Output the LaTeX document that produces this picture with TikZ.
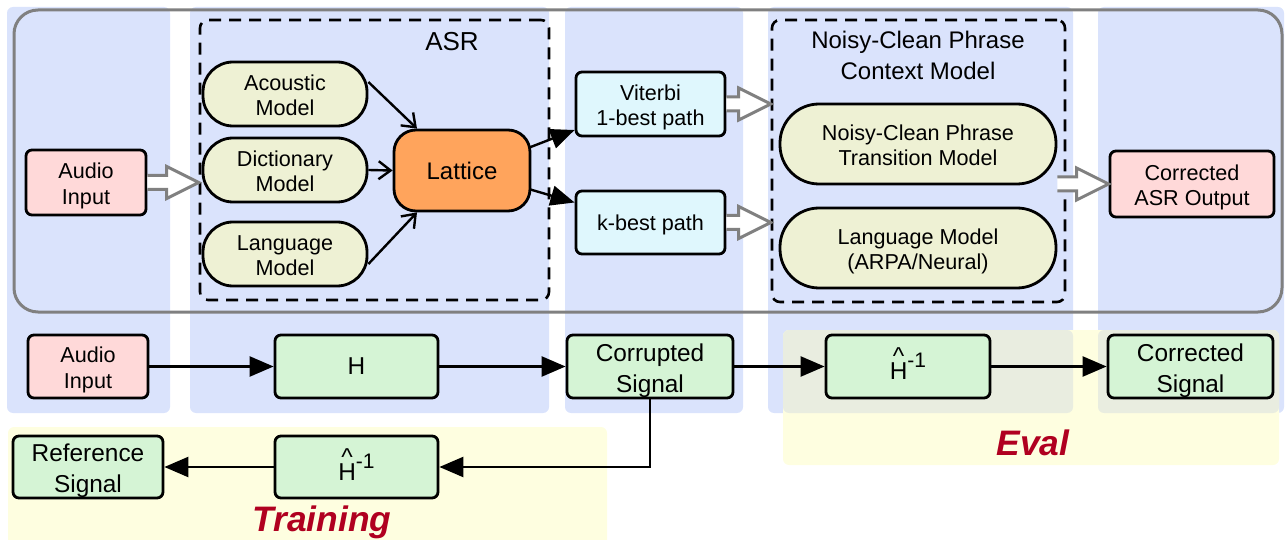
\documentclass[tikz,border=0pt]{standalone}
\usepackage{fontspec}
\setmainfont{Liberation Sans}
\usetikzlibrary{arrows.meta,calc}
\definecolor{colblue}{HTML}{DAE3FC}
\definecolor{pinkc}{HTML}{FFD9D9}
\definecolor{modelc}{HTML}{EEF1D4}
\definecolor{orangec}{HTML}{FFA45C}
\definecolor{cyanc}{HTML}{DFF7FD}
\definecolor{greenc}{HTML}{D5F4D5}
\definecolor{yellowc}{HTML}{FEFEE0}
\definecolor{overlapc}{HTML}{E9EDE0}
\definecolor{redc}{HTML}{B00020}
\definecolor{grayc}{HTML}{808080}
\newcommand\hinv{\ooalign{H\cr\hidewidth\raisebox{0.62em}{\textasciicircum}\hidewidth\cr}\raisebox{0.5em}{\fontsize{10.5}{12}\selectfont -1}}
\newcommand\ml[1]{\raisebox{-2pt}[\height][\depth]{\begin{tabular}{@{}c@{}}#1\end{tabular}}}
\newcommand\hollowarrow[2]{\draw[hollow] let \p1=(#1), \p2=(#2) in
  (\x1,\y1+3.5pt) -- (\x2-16pt,\y1+3.5pt) -- (\x2-16pt,\y1+8pt) -- (\x2,\y1)
  -- (\x2-16pt,\y1-8pt) -- (\x2-16pt,\y1-3.5pt) -- (\x1,\y1-3.5pt);}
\begin{document}
\begin{tikzpicture}[x=0.5pt,y=-0.5pt,
  box/.style={draw=black, line width=1.4pt, rounded corners=3pt, inner sep=0pt, align=center, font={\fontsize{10.8}{12.5}\selectfont}},
  pinkbox/.style={box, fill=pinkc},
  modelbox/.style={box, fill=modelc, rounded corners=15pt},
  latbox/.style={box, fill=orangec, rounded corners=11pt, font={\fontsize{12}{14}\selectfont}},
  cyanbox/.style={box, fill=cyanc},
  greenbox/.style={box, fill=greenc, font={\fontsize{12.2}{15.5}\selectfont}},
  dashbox/.style={draw=black, dashed, dash pattern=on 6pt off 4pt, line width=1.3pt, rounded corners=4pt, inner sep=0pt},
  hollow/.style={draw=grayc, line width=1.5pt, fill=white, line join=miter},
  filarr/.style={line width=1.2pt, -{Triangle[length=12pt,width=10pt]}},
  openarr/.style={line width=1.2pt, -{Straight Barb[length=6pt,width=9pt,line width=1.2pt]}},
  phase/.style={text=redc, font={\fontsize{17.7}{20}\selectfont\bfseries\itshape}}
]
\useasboundingbox (0,0) rectangle (1287,540);
% background columns
\fill[colblue, rounded corners=3pt] (7,7) rectangle (170,413);
\fill[colblue, rounded corners=3pt] (190,7) rectangle (549,413);
\fill[colblue, rounded corners=3pt] (565,7) rectangle (743,413);
\fill[colblue, rounded corners=3pt] (768,7) rectangle (1073,413);
\fill[colblue, rounded corners=3pt] (1098,7) rectangle (1284,413);
% yellow regions
\fill[yellowc, rounded corners=3pt] (8,427) rectangle (607,548);
\fill[yellowc, rounded corners=3pt] (783,330) rectangle (1279,465);
\fill[overlapc, rounded corners=3pt] (783,330) rectangle (1073,413);
\fill[overlapc, rounded corners=3pt] (1098,330) rectangle (1279,413);
% outer frame
\draw[grayc, line width=1.5pt, rounded corners=12pt] (14,10) rectangle (1282,312);
% dashed groups
\node[dashbox, minimum width=174.5pt, minimum height=140pt] (asr) at (374.5,160) {};
\node[font={\fontsize{13}{15}\selectfont}] (asrlbl) at (452,42) {ASR};
\node[dashbox, minimum width=146.5pt, minimum height=141pt] (nc) at (918.5,161) {};
\node[align=center, font={\fontsize{12}{15.5}\selectfont}] (nclbl) at (918,55.5) {Noisy-Clean Phrase\\Context Model};
% top nodes
\node[pinkbox, minimum width=60pt, minimum height=32.5pt] (audio1) at (86,182.5) {\ml{Audio\\Input}};
\node[modelbox, minimum width=82pt, minimum height=32pt] (ac) at (285,94) {\ml{Acoustic\\Model}};
\node[modelbox, minimum width=82pt, minimum height=32pt] (dic) at (285,170) {\ml{Dictionary\\Model}};
\node[modelbox, minimum width=82pt, minimum height=32pt] (lm) at (285,254) {\ml{Language\\Model}};
\node[latbox, minimum width=68pt, minimum height=40.5pt] (lat) at (462,170.5) {Lattice};
\node[cyanbox, minimum width=74.5pt, minimum height=32pt] (vit) at (650.5,104) {\ml{Viterbi\\1-best path}};
\node[cyanbox, minimum width=74.5pt, minimum height=31.5pt, text depth=0pt] (kb) at (650.5,222.5) {k-best path};
\node[modelbox, rounded corners=19.5pt, minimum width=138pt, minimum height=40pt] (nct) at (918,144) {\ml{Noisy-Clean Phrase\\Transition Model}};
\node[modelbox, rounded corners=19.5pt, minimum width=138pt, minimum height=40pt] (nlm) at (918,248) {\ml{Language Model\\(ARPA/Neural)}};
\node[pinkbox, minimum width=82pt, minimum height=33pt] (cor) at (1192,184) {\ml{Corrected\\ASR Output}};
% bottom nodes
\node[pinkbox, minimum width=60pt, minimum height=31.5pt] (audio2) at (88,366.5) {\ml{Audio\\Input}};
\node[greenbox, minimum width=81.5pt, minimum height=31.5pt] (H) at (356.5,366.5) {H};
\node[greenbox, minimum width=83pt, minimum height=31.5pt] (corr) at (650,366.5) {\ml{Corrupted\\Signal}};
\node[greenbox, minimum width=82pt, minimum height=31.5pt] (hinv1) at (908,366.5) {\hinv};
\node[greenbox, minimum width=82.5pt, minimum height=31.5pt] (corsig) at (1190.5,366.5) {\ml{Corrected\\Signal}};
\node[greenbox, minimum width=75pt, minimum height=31pt] (ref) at (88,467) {\ml{Reference\\Signal}};
\node[greenbox, minimum width=81.5pt, minimum height=31pt] (hinv2) at (356.5,467) {\hinv};
% labels
\node[phase] (train) at (322,522) {Training};
\node[phase] (eval) at (1033,443) {Eval};
% hollow arrows
\hollowarrow{audio1.east}{audio1.east -| asr.west}
\hollowarrow{vit.east}{vit.east -| nc.west}
\hollowarrow{kb.east}{kb.east -| nc.west}
\hollowarrow{$(cor.west -| nc.east)+(-9,0)$}{cor.west}
% ASR internal arrows
\draw[openarr] ($(ac.east)+(0,-12)$) -- ($(lat.north)+(-45,0)$);
\draw[openarr] (dic.east) -- (lat.west);
\draw[openarr] ($(lm.east)+(0,10)$) -- ($(lat.south)+(-45,0)$);
\draw[filarr] ($(lat.east)+(-2,-23)$) -- ($(vit.west)+(0,26)$);
\draw[filarr] ($(lat.east)+(-1,19)$) -- ($(kb.west)+(0,-20)$);
% bottom arrows
\draw[filarr] (audio2) -- (H);
\draw[filarr] (H) -- (corr);
\draw[filarr] (corr) -- (hinv1);
\draw[filarr] (hinv1) -- (corsig);
\draw[filarr] (corr.south) |- (hinv2.east);
\draw[filarr] (hinv2) -- (ref);
\end{tikzpicture}
\end{document}
